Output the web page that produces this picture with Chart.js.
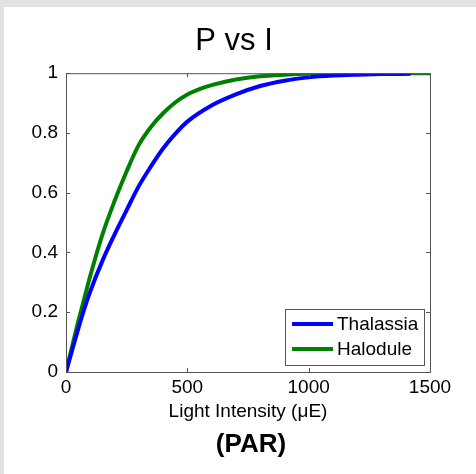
<!DOCTYPE html>
<html>
<head>
<meta charset="utf-8">
<script src="https://cdn.jsdelivr.net/npm/chart.js@4/dist/chart.umd.min.js"></script>
<style>
  html, body { margin: 0; padding: 0; width: 476px; height: 474px; overflow: hidden; background: #e2e2e2; }
  #panel { position: absolute; left: 4px; top: 7px; right: 0; bottom: 0; background: #fff; }
  #wrap { position: absolute; left: 0; top: 0; width: 476px; height: 474px; }
</style>
</head>
<body>
<div id="panel"></div>
<div id="wrap"><canvas id="pvi"></canvas></div>
<script>
// values
var seriesNames = ["Thalassia", "Halodule"];
var seriesColors = ["#0000ff", "#008000"];

var thalassiaI = [0, 25, 50, 75, 100, 150, 200, 250, 300, 350, 400, 450, 500, 600, 700, 800, 900, 1000, 1100, 1200, 1300, 1420];
var thalassiaP = [0, 0.072, 0.143, 0.21, 0.27, 0.372, 0.46, 0.542, 0.622, 0.688, 0.748, 0.797, 0.838, 0.892, 0.929, 0.957, 0.975, 0.986, 0.992, 0.995, 0.997, 0.998];

var haloduleI = [0, 25, 50, 75, 100, 150, 200, 250, 300, 350, 400, 450, 500, 550, 600, 700, 800, 900, 1000, 1100, 1200, 1300, 1400, 1500];
var haloduleP = [0, 0.085, 0.168, 0.245, 0.322, 0.46, 0.572, 0.672, 0.76, 0.82, 0.866, 0.902, 0.929, 0.947, 0.96, 0.979, 0.99, 0.995, 0.998, 0.999, 1, 1, 1, 1];

var xTicks = [0, 500, 1000, 1500];
var yTicks = [0, 0.2, 0.4, 0.6, 0.8, 1];

function pairs(xs, ys) {
    return xs.map(function (x, i) { return { x: x, y: ys[i] }; });
}

var FONT = "'Liberation Sans', Arial, sans-serif";
var AXIS = "#555555";

// box around the plot with inward ticks (matlab style)
var framePlugin = {
    id: "frame",
    afterDatasetsDraw: function (chart) {
        var a = chart.chartArea, ctx = chart.ctx;
        var xs = chart.scales.x, ys = chart.scales.y;
        var t = 4;
        ctx.save();
        ctx.strokeStyle = AXIS;
        ctx.lineWidth = 1;
        ctx.strokeRect(a.left + 0.5, a.top + 0.5, a.right - a.left, a.bottom - a.top);
        ctx.beginPath();
        xTicks.forEach(function (v) {
            var px = Math.round(xs.getPixelForValue(v)) + 0.5;
            ctx.moveTo(px, a.bottom); ctx.lineTo(px, a.bottom - t);
            ctx.moveTo(px, a.top); ctx.lineTo(px, a.top + t);
        });
        yTicks.forEach(function (v) {
            var py = Math.round(ys.getPixelForValue(v)) + 0.5;
            ctx.moveTo(a.left, py); ctx.lineTo(a.left + t, py);
            ctx.moveTo(a.right, py); ctx.lineTo(a.right - t, py);
        });
        ctx.stroke();
        ctx.restore();
    }
};

// legend box inside the bottom right corner, plus the bold "(PAR)" line under the axis title
var legendPlugin = {
    id: "boxLegend",
    afterDraw: function (chart) {
        var a = chart.chartArea, ctx = chart.ctx;
        var w = 139, h = 56;
        var bx = a.right - 6 - w, by = a.bottom - 7 - h;
        ctx.save();
        ctx.fillStyle = "#fff";
        ctx.fillRect(bx, by, w, h);
        ctx.strokeStyle = AXIS;
        ctx.lineWidth = 1;
        ctx.strokeRect(bx + 0.5, by + 0.5, w, h);
        ctx.font = "19px " + FONT;
        ctx.textBaseline = "middle";
        chart.data.datasets.forEach(function (ds, i) {
            var y = by + 15 + i * 25;
            ctx.strokeStyle = ds.borderColor;
            ctx.lineWidth = 4;
            ctx.beginPath();
            ctx.moveTo(bx + 7, y); ctx.lineTo(bx + 48, y);
            ctx.stroke();
            ctx.fillStyle = "#000";
            ctx.fillText(ds.label, bx + 52, y + 1);
        });

        ctx.font = "bold 26px " + FONT;
        ctx.textAlign = "center";
        ctx.fillText("(PAR)", (a.left + a.right) / 2 + 3, 445);
        ctx.restore();
    }
};

var chart = new Chart(document.getElementById("pvi").getContext("2d"), {
    type: "line",
    data: {
        datasets: [
            { label: seriesNames[0], data: pairs(thalassiaI, thalassiaP), borderColor: seriesColors[0], borderWidth: 4, pointRadius: 0, cubicInterpolationMode: "monotone" },
            { label: seriesNames[1], data: pairs(haloduleI, haloduleP), borderColor: seriesColors[1], borderWidth: 4, pointRadius: 0, cubicInterpolationMode: "monotone" }
        ]
    },
    options: {
        responsive: true,
        maintainAspectRatio: false,
        animation: false,
        layout: { padding: { left: 0, right: 8, top: 0, bottom: 0 } },
        plugins: {
            legend: { display: false },
            tooltip: { enabled: false },
            title: {
                display: true,
                text: "P vs I",
                color: "#000",
                font: { family: FONT, size: 31, weight: "normal", lineHeight: 1.2 },
                padding: { top: 23, bottom: 13 }
            }
        },
        scales: {
            x: {
                type: "linear",
                min: 0, max: 1500,
                afterBuildTicks: function (s) { s.ticks = xTicks.map(function (v) { return { value: v }; }); },
                afterFit: function (s) { s.height = 102; },
                grid: { display: false, drawTicks: false },
                border: { display: false },
                ticks: {
                    color: "#000", padding: 4, maxRotation: 0,
                    font: { family: FONT, size: 19 },
                    callback: function (v) { return String(v); }
                },
                title: {
                    display: true,
                    text: "Light Intensity (\u03bcE)",
                    color: "#000",
                    font: { family: FONT, size: 19 },
                    padding: { top: 0, bottom: 51 }
                }
            },
            y: {
                min: 0, max: 1,
                afterBuildTicks: function (s) { s.ticks = yTicks.map(function (v) { return { value: v }; }); },
                afterFit: function (s) { s.width = 66; },
                grid: { display: false, drawTicks: false },
                border: { display: false },
                ticks: {
                    color: "#000", padding: 8,
                    font: { family: FONT, size: 19 },
                    callback: function (v) { return String(v); }
                }
            },
            // empty space on the right so the plot ends where the reference does
            yRight: {
                position: "right",
                min: 0, max: 1,
                afterFit: function (s) { s.width = 38; },
                grid: { display: false, drawTicks: false },
                border: { display: false },
                ticks: { display: false }
            }
        }
    },
    plugins: [framePlugin, legendPlugin]
});
</script>
</body>
</html>
